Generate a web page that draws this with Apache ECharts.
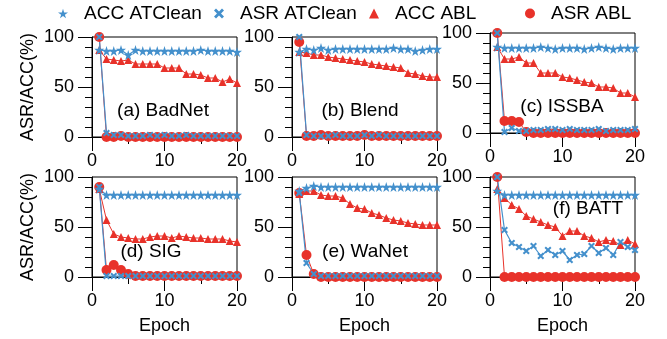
<!DOCTYPE html>
<html>
<head>
<meta charset="utf-8">
<script src="https://cdn.jsdelivr.net/npm/echarts@6/dist/echarts.min.js"></script>
<style>
  html, body { margin: 0; padding: 0; background: #fff; }
  #chart { width: 667px; height: 339px; }
</style>
</head>
<body>
<div id="chart"></div>
<script>
const epochs = [1, 2, 3, 4, 5, 6, 7, 8, 9, 10, 11, 12, 13, 14, 15, 16, 17, 18, 19, 20];
const seriesNames = ['ACC ATClean', 'ASR ATClean', 'ACC ABL', 'ASR ABL'];
const panelTitles = ['(a) BadNet', '(b) Blend', '(c) ISSBA', '(d) SIG', '(e) WaNet', '(f) BATT'];

// (a) BadNet
const badnetAccAT = [87, 86, 86, 87, 82, 87, 86, 86, 86, 86, 86, 86, 86, 86, 87, 86, 86, 86, 86, 85];
const badnetAsrAT = [100, 4, 2, 2, 1, 1, 1, 2, 1, 2, 1, 1, 2, 1, 1, 1, 1, 1, 1, 1];
const badnetAccABL = [87, 78, 77, 76, 77, 73, 73, 73, 73, 69, 69, 69, 63, 63, 62, 59, 59, 55, 58, 54];
const badnetAsrABL = [100, 0, 0, 1, 0, 0, 0, 0, 0, 0, 0, 0, 0, 0, 0, 0, 0, 0, 0, 0];
// (b) Blend
const blendAccAT = [85, 88, 87, 89, 87, 88, 88, 88, 88, 88, 88, 88, 88, 89, 88, 88, 86, 87, 88, 88];
const blendAsrAT = [100, 2, 1, 1, 1, 2, 1, 1, 1, 2, 1, 2, 1, 1, 1, 1, 1, 1, 1, 1];
const blendAccABL = [85, 84, 82, 82, 80, 79, 78, 77, 76, 75, 73, 72, 71, 70, 69, 64, 63, 61, 60, 60];
const blendAsrABL = [95, 1, 1, 2, 1, 1, 1, 1, 1, 2, 1, 1, 1, 1, 1, 1, 1, 1, 1, 1];
// (c) ISSBA
const issbaAccAT = [86, 85, 85, 85, 85, 85, 86, 85, 84, 85, 85, 85, 84, 85, 86, 85, 84, 85, 85, 85];
const issbaAsrAT = [100, 1, 5, 2, 2, 3, 3, 4, 4, 3, 4, 3, 3, 3, 4, 2, 3, 3, 3, 4];
const issbaAccABL = [86, 74, 74, 76, 70, 70, 60, 60, 60, 56, 55, 53, 51, 50, 46, 46, 45, 40, 40, 36];
const issbaAsrABL = [100, 12, 12, 11, 1, 0, 0, 0, 0, 0, 0, 0, 0, 0, 0, 0, 0, 0, 0, 0];
// (d) SIG
const sigAccAT = [88, 82, 82, 82, 82, 82, 82, 82, 82, 82, 82, 82, 82, 82, 82, 82, 82, 82, 82, 82];
const sigAsrAT = [90, 1, 1, 1, 1, 1, 1, 1, 1, 1, 1, 1, 1, 1, 1, 1, 1, 1, 1, 1];
const sigAccABL = [88, 57, 43, 40, 39, 38, 38, 40, 41, 41, 39, 41, 40, 39, 39, 38, 38, 38, 36, 35];
const sigAsrABL = [90, 7, 12, 7, 3, 1, 1, 1, 1, 1, 1, 1, 1, 1, 1, 1, 1, 1, 1, 1];
// (e) WaNet
const wanetAccAT = [86, 89, 91, 90, 90, 90, 90, 90, 90, 90, 90, 90, 90, 90, 90, 90, 90, 90, 90, 90];
const wanetAsrAT = [84, 14, 3, 1, 1, 1, 1, 1, 1, 1, 1, 1, 1, 1, 1, 1, 1, 1, 1, 1];
const wanetAccABL = [83, 86, 86, 82, 81, 81, 79, 73, 69, 68, 64, 62, 59, 57, 56, 54, 53, 52, 52, 52];
const wanetAsrABL = [84, 22, 3, 0, 0, 0, 0, 0, 0, 0, 0, 0, 0, 0, 0, 0, 0, 0, 0, 0];
// (f) BATT
const battAccAT = [86, 82, 82, 82, 82, 82, 82, 82, 82, 82, 82, 82, 82, 82, 82, 82, 82, 82, 82, 82];
const battAsrAT = [100, 47, 34, 30, 26, 31, 21, 27, 22, 26, 17, 22, 23, 31, 24, 29, 22, 35, 30, 27];
const battAccABL = [88, 79, 72, 68, 61, 58, 55, 52, 50, 41, 46, 46, 41, 39, 35, 37, 36, 32, 37, 33];
const battAsrABL = [100, 0, 0, 0, 0, 0, 0, 0, 0, 0, 0, 0, 0, 0, 0, 0, 0, 0, 0, 0];

const panels = [
  [badnetAccAT, badnetAsrAT, badnetAccABL, badnetAsrABL],
  [blendAccAT, blendAsrAT, blendAccABL, blendAsrABL],
  [issbaAccAT, issbaAsrAT, issbaAccABL, issbaAsrABL],
  [sigAccAT, sigAsrAT, sigAccABL, sigAsrABL],
  [wanetAccAT, wanetAsrAT, wanetAccABL, wanetAsrABL],
  [battAccAT, battAsrAT, battAccABL, battAsrABL],
];

const BLUE = '#4490cc';
const RED = '#e8322a';
const FONT = '"Liberation Sans", Arial, Helvetica, sans-serif';
const STAR = 'path://M50,0L61,35L98,35L68,57L79,91L50,70L21,91L32,57L2,35L39,35Z';
const CROSS = 'path://M0,2L2,0L5,3L8,0L10,2L7,5L10,8L8,10L5,7L2,10L0,8L3,5Z';

const SERIES_STYLE = [
  { color: BLUE, symbol: STAR, size: 10, width: 1.2 },
  { color: BLUE, symbol: CROSS, size: 7, width: 1.2 },
  { color: RED, symbol: 'triangle', size: 8, width: 1 },
  { color: RED, symbol: 'circle', size: 10, width: 1 },
];

// grid boxes in px
const GRID_POS = [
  { left: 92, top: 37 }, { left: 292, top: 37 }, { left: 490, top: 33 },
  { left: 92, top: 177 }, { left: 292, top: 177 }, { left: 490, top: 177 },
];
const TITLE_POS = [
  [163, 112], [360, 112], [562, 108],
  [151, 253], [365, 253], [588, 210],
];

const grids = [];
const xAxes = [];
const yAxes = [];
const series = [];
const titles = [];

GRID_POS.forEach((p, i) => {
  grids.push({
    left: p.left, top: p.top, width: 145, height: 100,
    show: true, borderColor: '#000', borderWidth: 1, backgroundColor: 'transparent',
  });
  const bottomRow = i >= 3;
  xAxes.push({
    type: 'value', gridIndex: i, min: 0, max: 20, interval: 10,
    name: bottomRow ? 'Epoch' : '', nameLocation: 'middle', nameGap: 40,
    nameTextStyle: { fontFamily: FONT, fontSize: 18, color: '#000' },
    axisLine: { lineStyle: { color: '#000', width: 1 } },
    axisTick: { show: true, inside: false, length: 14, lineStyle: { color: '#000', width: 1 } },
    minorTick: { show: true, splitNumber: 2, length: 7, lineStyle: { color: '#000', width: 1 } },
    axisLabel: { fontFamily: FONT, fontSize: 18, color: '#000', margin: 15 },
    splitLine: { show: false },
  });
  const firstCol = i % 3 === 0;
  yAxes.push({
    type: 'value', gridIndex: i, min: 0, max: 100, interval: 50,
    name: firstCol ? 'ASR/ACC(%)' : '', nameLocation: 'middle', nameGap: 55,
    nameTextStyle: { fontFamily: FONT, fontSize: 18, color: '#000' },
    axisLine: { show: true, lineStyle: { color: '#000', width: 1 } },
    axisTick: { show: true, inside: false, length: 14, lineStyle: { color: '#000', width: 1 } },
    minorTick: { show: true, splitNumber: 5, length: 7, lineStyle: { color: '#000', width: 1 } },
    axisLabel: { fontFamily: FONT, fontSize: 18, color: '#000', margin: 18 },
    splitLine: { show: false },
  });
  // draw order: red dots, red triangles, blue stars, blue crosses
  [3, 2, 0, 1].forEach((k) => {
    const st = SERIES_STYLE[k];
    series.push({
      name: seriesNames[k], type: 'line', xAxisIndex: i, yAxisIndex: i,
      data: epochs.map((e, j) => [e, panels[i][k][j]]),
      symbol: st.symbol, symbolSize: st.size, showAllSymbol: true,
      itemStyle: { color: st.color },
      lineStyle: { color: st.color, width: st.width },
      animation: false,
    });
  });
  titles.push({
    text: panelTitles[i], left: TITLE_POS[i][0], top: TITLE_POS[i][1] - 11,
    textAlign: 'center', padding: 0,
    textStyle: { fontFamily: FONT, fontSize: 19, fontWeight: 'normal', color: '#000' },
  });
});

const LEGEND_POS = [58, 214, 369, 525];
const LEGEND_ICON = [STAR, CROSS, 'triangle', 'circle'];
const legends = seriesNames.map((name, k) => ({
  left: LEGEND_POS[k], top: 4, padding: 0,
  itemWidth: 10, itemHeight: 10,
  data: [{ name, icon: LEGEND_ICON[k], itemStyle: { color: SERIES_STYLE[k].color } }],
  textStyle: { fontFamily: FONT, fontSize: 19, color: '#000', padding: [0, 0, 0, 11] },
  selectedMode: false,
}));

const chart = echarts.init(document.getElementById('chart'), null, { renderer: 'canvas' });
chart.setOption({
  animation: false,
  title: titles,
  legend: legends,
  grid: grids,
  xAxis: xAxes,
  yAxis: yAxes,
  series,
});
</script>
</body>
</html>
